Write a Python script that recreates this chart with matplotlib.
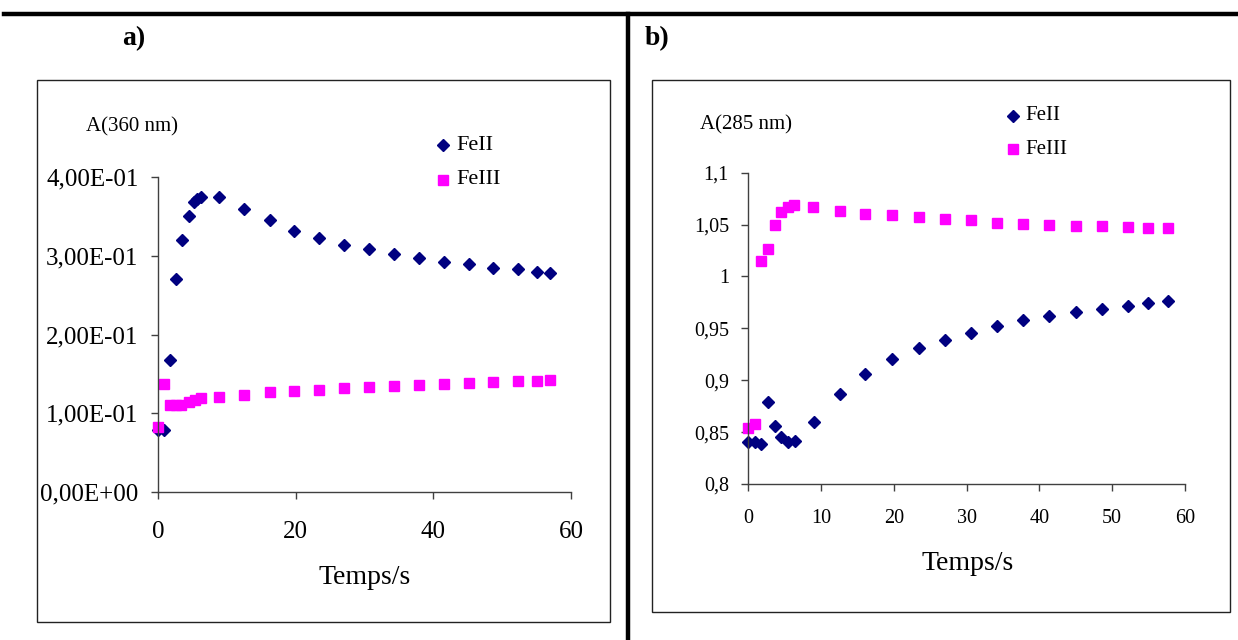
import matplotlib
matplotlib.use("Agg")
import matplotlib.pyplot as plt
from matplotlib.lines import Line2D
from matplotlib.patches import Rectangle
from matplotlib.ticker import FuncFormatter

# ---------------- data ----------------
# Panel a) A(360 nm)
t_a = [0, 0.9, 1.8, 2.6, 3.5, 4.5, 5.3, 5.7, 6.3, 8.9, 12.5, 16.2, 19.8, 23.4,
       27.0, 30.6, 34.3, 37.9, 41.5, 45.2, 48.7, 52.3, 55.0, 56.9]
feII_a = [0.079, 0.079, 0.167, 0.271, 0.320, 0.351, 0.368, 0.372, 0.375, 0.374,
          0.359, 0.345, 0.332, 0.323, 0.314, 0.308, 0.302, 0.297, 0.292, 0.289,
          0.285, 0.283, 0.280, 0.278]
t_a3 = [0, 0.9, 1.7, 2.6, 3.4, 4.5, 5.4, 6.3, 8.9, 12.5, 16.2, 19.8, 23.4,
        27.0, 30.6, 34.3, 37.9, 41.5, 45.2, 48.7, 52.3, 55.0, 56.9]
feIII_a = [0.083, 0.137, 0.111, 0.110, 0.111, 0.114, 0.117, 0.119, 0.121, 0.123,
           0.127, 0.128, 0.130, 0.132, 0.133, 0.134, 0.136, 0.137, 0.139, 0.140,
           0.141, 0.141, 0.142]

# Panel b) A(285 nm)
t_b = [0, 0.9, 1.8, 2.66, 3.6, 4.5, 5.4, 6.4, 9.0, 12.6, 16.1, 19.7, 23.4,
       27.0, 30.6, 34.2, 37.8, 41.3, 45.0, 48.6, 52.2, 54.9, 57.6]
feII_b = [0.8405, 0.840, 0.839, 0.879, 0.8556, 0.8456, 0.8405, 0.8414, 0.860,
          0.887, 0.906, 0.920, 0.931, 0.939, 0.946, 0.9525, 0.9577, 0.962,
          0.9657, 0.9689, 0.9718, 0.9744, 0.976]
t_b3 = [0, 0.92, 1.7, 2.66, 3.6, 4.45, 5.4, 6.3, 8.9, 12.55, 16.1, 19.7, 23.4,
        27.0, 30.6, 34.2, 37.8, 41.3, 45.0, 48.6, 52.2, 54.9, 57.6]
feIII_b = [0.854, 0.858, 1.015, 1.026, 1.050, 1.062, 1.067, 1.069, 1.067, 1.063,
           1.060, 1.059, 1.057, 1.055, 1.054, 1.052, 1.051, 1.050, 1.049, 1.049,
           1.0476, 1.047, 1.0467]

yticks_a = [0.0, 0.1, 0.2, 0.3, 0.4]
yticks_b = [0.8, 0.85, 0.9, 0.95, 1.0, 1.05, 1.1]
xticks_a = [0, 20, 40, 60]
xticks_b = [0, 10, 20, 30, 40, 50, 60]

NAVY = "#000080"
MAG = "#FF00FF"
SERIF = ["Liberation Serif", "DejaVu Serif"]
MS_D = 6.2
MS_S = 7.8

W, H = 1238, 640
fig = plt.figure(figsize=(W / 100, H / 100), dpi=100)


def fx(x):
    return x / W


def fy(y):
    return 1 - y / H


def rect(l, t, r, b):
    return [fx(l), fy(b), (r - l) / W, (b - t) / H]


# table frame lines
fig.add_artist(Line2D([fx(4), fx(1238)], [fy(14), fy(14)], color="black", lw=3.2))
fig.add_artist(Line2D([fx(628), fx(628)], [fy(14), fy(640)], color="black", lw=3.2))

# chart area boxes
for (l, t, r, b) in [(37, 80, 610, 622), (652, 80, 1230, 612)]:
    fig.add_artist(Rectangle((fx(l), fy(b)), (r - l) / W, (b - t) / H,
                             transform=fig.transFigure, fill=False,
                             edgecolor="#222222", lw=1.0))

fig.text(fx(134), fy(39), "a)", fontfamily=SERIF, fontweight="bold",
         fontsize=20, ha="center", va="center")
fig.text(fx(657), fy(39), "b)", fontfamily=SERIF, fontweight="bold",
         fontsize=20, ha="center", va="center")


def style(ax, lblsize):
    for s in ["top", "right"]:
        ax.spines[s].set_visible(False)
    for s in ["left", "bottom"]:
        ax.spines[s].set_color("#404040")
        ax.spines[s].set_linewidth(1.0)
    ax.tick_params(direction="out", length=5, width=1.0, color="#404040",
                   labelsize=lblsize)
    for lab in ax.get_xticklabels() + ax.get_yticklabels():
        lab.set_fontfamily(SERIF)
    ax.patch.set_alpha(0)


# ---------------- panel a ----------------
axa = fig.add_axes(rect(158, 177, 571, 492))
axa.plot(t_a, feII_a, ls="none", marker="D", ms=MS_D, color=NAVY, mec=NAVY)
axa.plot(t_a3, feIII_a, ls="none", marker="s", ms=MS_S, color=MAG, mec=MAG)
axa.set_xlim(0, 60)
axa.set_ylim(0, 0.4)
axa.set_xticks(xticks_a)
axa.set_yticks(yticks_a)
axa.yaxis.set_major_formatter(FuncFormatter(
    lambda v, p: ("%.2E" % v).replace(".", ",")))
for l in axa.lines:
    l.set_clip_on(False)
style(axa, 18)
axa.tick_params(axis="y", pad=9)
axa.tick_params(axis="x", pad=16)

fig.text(fx(86), fy(127), "A(360 nm)", fontfamily=SERIF, fontsize=15, va="center")
fig.text(fx(365), fy(578), "Temps/s", fontfamily=SERIF, fontsize=20,
         ha="center", va="center")
fig.add_artist(Line2D([fx(443)], [fy(145)], marker="D", ms=MS_D, color=NAVY, ls="none"))
fig.text(fx(456), fy(145), "FeII", fontfamily=SERIF, fontsize=16, va="center")
fig.add_artist(Line2D([fx(443)], [fy(180)], marker="s", ms=MS_S, color=MAG, ls="none"))
fig.text(fx(456), fy(180), "FeIII", fontfamily=SERIF, fontsize=16, va="center")

# ---------------- panel b ----------------
axb = fig.add_axes(rect(748.3, 172.7, 1185, 484))
axb.plot(t_b, feII_b, ls="none", marker="D", ms=MS_D, color=NAVY, mec=NAVY)
axb.plot(t_b3, feIII_b, ls="none", marker="s", ms=MS_S, color=MAG, mec=MAG)
axb.set_xlim(0, 60)
axb.set_ylim(0.8, 1.1)
axb.set_xticks(xticks_b)
axb.set_yticks(yticks_b)
axb.yaxis.set_major_formatter(FuncFormatter(
    lambda v, p: ("%g" % round(v, 2)).replace(".", ",")))
for l in axb.lines:
    l.set_clip_on(False)
style(axb, 14.5)
axb.tick_params(axis="y", pad=9)
axb.tick_params(axis="x", pad=13)

fig.text(fx(700), fy(125), "A(285 nm)", fontfamily=SERIF, fontsize=15, va="center")
fig.text(fx(968), fy(563), "Temps/s", fontfamily=SERIF, fontsize=20,
         ha="center", va="center")
fig.add_artist(Line2D([fx(1013)], [fy(116)], marker="D", ms=MS_D, color=NAVY, ls="none"))
fig.text(fx(1025), fy(116), "FeII", fontfamily=SERIF, fontsize=15, va="center")
fig.add_artist(Line2D([fx(1013)], [fy(149)], marker="s", ms=MS_S, color=MAG, ls="none"))
fig.text(fx(1025), fy(149), "FeIII", fontfamily=SERIF, fontsize=15, va="center")

fig.savefig("out.png", dpi=100)
